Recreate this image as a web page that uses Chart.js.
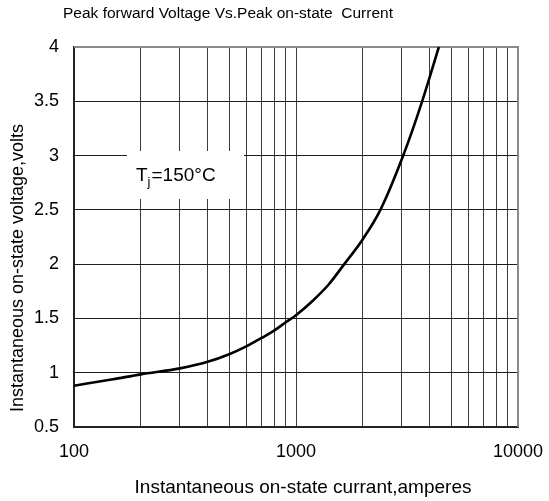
<!DOCTYPE html>
<html>
<head>
<meta charset="utf-8">
<script src="https://cdn.jsdelivr.net/npm/chart.js@4/dist/chart.umd.min.js"></script>
<style>
  html, body { margin: 0; padding: 0; background: #fff; }
  #wrap { width: 549px; height: 501px; }
</style>
</head>
<body>
<div id="wrap"><canvas id="vf-chart" width="549" height="501"></canvas></div>
<script>
// 곡선 데이터
const currents = [100, 150, 200, 300, 400, 500, 600, 700, 800, 900, 1000, 1200, 1400, 1650, 2000, 2400, 3040, 3700, 4400];
const voltages = [0.88, 0.94, 0.985, 1.04, 1.10, 1.17, 1.245, 1.32, 1.39, 1.465, 1.53, 1.67, 1.81, 2.0, 2.23, 2.5, 3.0, 3.5, 4.0];

// 눈금
const xGridTicks = [100, 200, 300, 400, 500, 600, 700, 800, 900, 1000, 2000, 3000, 4000, 5000, 6000, 7000, 8000, 9000, 10000];
const xLabelTicks = [100, 1000, 10000];
const yTicks = [0.5, 1, 1.5, 2, 2.5, 3, 3.5, 4];

const chartTitle = 'Peak forward Voltage Vs.Peak on-state  Current';
const xTitle = 'Instantaneous on-state currant,amperes';
const yTitle = 'Instantaneous on-state voltage,volts';

const FONT = '"Liberation Sans", Arial, sans-serif';

// 제목, 축 제목, Tj 상자 그리기
const textPlugin = {
    id: 'textPlugin',
    beforeDatasetsDraw(chart) {
        const ctx = chart.ctx;
        const area = chart.chartArea;
        // 외곽선 (위, 오른쪽)
        ctx.save();
        ctx.strokeStyle = '#8a8a8a';
        ctx.lineWidth = 2;
        ctx.beginPath();
        ctx.moveTo(area.left, area.top);
        ctx.lineTo(area.right, area.top);
        ctx.lineTo(area.right, area.bottom);
        ctx.stroke();

        // Tj 상자
        ctx.fillStyle = '#fff';
        ctx.fillRect(127, 151, 117, 48);
        ctx.fillStyle = '#000';
        ctx.textBaseline = 'alphabetic';
        ctx.textAlign = 'left';
        ctx.font = '19px ' + FONT;
        let x = 136;
        const base = 181;
        ctx.fillText('T', x, base);
        x += ctx.measureText('T').width;
        ctx.font = '13px ' + FONT;
        ctx.fillText('j', x, base + 5);
        x += ctx.measureText('j').width + 1;
        ctx.font = '19px ' + FONT;
        ctx.fillText('=150°C', x, base);
        ctx.restore();
    },
    afterDraw(chart) {
        const ctx = chart.ctx;
        ctx.save();
        ctx.fillStyle = '#000';
        ctx.textBaseline = 'middle';
        ctx.textAlign = 'center';
        ctx.font = '15.5px ' + FONT;
        ctx.fillText(chartTitle, 228, 14);
        ctx.font = '19px ' + FONT;
        ctx.fillText(xTitle, 303, 488);
        ctx.translate(18, 268);
        ctx.rotate(-Math.PI / 2);
        ctx.font = '18px ' + FONT;
        ctx.fillText(yTitle, 0, 0);
        ctx.restore();
    }
};

new Chart(document.getElementById('vf-chart').getContext('2d'), {
    type: 'line',
    data: {
        datasets: [{
            data: currents.map((c, i) => ({ x: c, y: voltages[i] })),
            borderColor: '#000',
            borderWidth: 2.6,
            pointRadius: 0,
            cubicInterpolationMode: 'monotone',
            fill: false
        }]
    },
    options: {
        responsive: false,
        animation: false,
        layout: { padding: { top: 47, right: 31, left: 0, bottom: 0 } },
        plugins: {
            legend: { display: false },
            title: { display: false },
            tooltip: { enabled: false }
        },
        scales: {
            x: {
                type: 'logarithmic',
                min: 100,
                max: 10000,
                afterBuildTicks: scale => { scale.ticks = xGridTicks.map(v => ({ value: v })); },
                afterFit: scale => {
                    scale.height = 74;
                    scale.paddingLeft = 0;
                    scale.paddingRight = 0;
                },
                grid: { color: '#3c3c3c', lineWidth: 1, drawTicks: false },
                border: { color: '#222', width: 2 },
                ticks: {
                    autoSkip: false,
                    maxRotation: 0,
                    padding: 14,
                    color: '#000',
                    font: { family: FONT, size: 18 },
                    callback: v => xLabelTicks.includes(v) ? String(v) : ''
                }
            },
            y: {
                min: 0.5,
                max: 4,
                afterBuildTicks: scale => { scale.ticks = yTicks.map(v => ({ value: v })); },
                afterFit: scale => {
                    scale.width = 74;
                    scale.paddingTop = 0;
                    scale.paddingBottom = 0;
                },
                grid: { color: '#1e1e1e', lineWidth: 1, drawTicks: false },
                border: { color: '#222', width: 2 },
                ticks: {
                    padding: 15,
                    color: '#000',
                    font: { family: FONT, size: 18 },
                    callback: v => String(v)
                }
            }
        }
    },
    plugins: [textPlugin]
});
</script>
</body>
</html>
